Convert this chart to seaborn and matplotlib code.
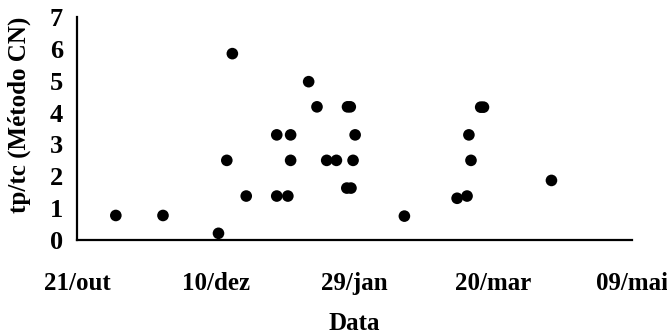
import matplotlib
matplotlib.use("Agg")
import matplotlib.pyplot as plt
import seaborn as sns
import pandas as pd

# Observation dates and the tp/tc ratio from the CN method
dates = [
    "2002-11-04", "2002-11-21", "2002-12-11", "2002-12-14", "2002-12-16",
    "2002-12-21", "2003-01-01", "2003-01-01", "2003-01-05", "2003-01-06",
    "2003-01-06", "2003-01-12 12:00", "2003-01-15 12:00", "2003-01-19",
    "2003-01-22 12:00", "2003-01-26 12:00", "2003-01-27 12:00",
    "2003-01-26 06:00", "2003-01-27 18:00", "2003-01-28 12:00",
    "2003-01-29 06:00", "2003-02-16", "2003-03-07", "2003-03-10 14:00",
    "2003-03-11 06:00", "2003-03-12", "2003-03-15 12:00", "2003-03-16 12:00",
    "2003-04-10",
]
tp_tc = [
    0.77, 0.77, 0.21, 2.50, 5.85,
    1.38, 3.30, 1.38, 1.38, 3.30,
    2.50, 4.97, 4.18, 2.50,
    2.50, 4.18, 4.18,
    1.63, 1.63, 2.50,
    3.30, 0.75, 1.31, 1.38,
    3.30, 2.50, 4.17, 4.17,
    1.87,
]

tick_dates = ["2002-10-21", "2002-12-10", "2003-01-29", "2003-03-20", "2003-05-09"]
tick_labels = ["21/out", "10/dez", "29/jan", "20/mar", "09/mai"]
y_ticks = [0, 1, 2, 3, 4, 5, 6, 7]

df = pd.DataFrame({"Data": pd.to_datetime(dates, format="mixed"), "tp/tc": tp_tc})

sns.set_theme(style="white")
plt.rcParams["font.family"] = ["Liberation Serif", "DejaVu Serif"]
plt.rcParams["font.weight"] = "bold"

fig = plt.figure(figsize=(6.67, 3.36), dpi=100)
ax = fig.add_axes([0.1154, 0.2857, 0.832, 0.6637])

sns.scatterplot(data=df, x="Data", y="tp/tc", ax=ax, color="black",
                s=70, edgecolor="none", legend=False)

ax.set_xlim(pd.Timestamp(tick_dates[0]), pd.Timestamp(tick_dates[-1]))
ax.set_ylim(0, 7)
ax.set_xticks(pd.to_datetime(tick_dates))
ax.set_xticklabels(tick_labels)
ax.set_yticks(y_ticks)
ax.set_yticklabels([str(v) for v in y_ticks])

for side in ("top", "right"):
    ax.spines[side].set_visible(False)
for side in ("left", "bottom"):
    ax.spines[side].set_color("black")
    ax.spines[side].set_linewidth(1.6)

ax.tick_params(axis="x", direction="out", length=4, width=1, color="black",
               pad=19, labelsize=18, labelcolor="black")
ax.tick_params(axis="y", direction="out", length=5, width=1.2, color="black",
               pad=5, labelsize=19, labelcolor="black")

ax.set_xlabel("Data", fontsize=18, fontweight="bold", labelpad=12, color="black")
ax.set_ylabel("tp/tc (Método CN)", fontsize=18, fontweight="bold", color="black")
ax.yaxis.set_label_coords(-0.083, 0.56)

fig.savefig("out.png", dpi=100, facecolor="white")
